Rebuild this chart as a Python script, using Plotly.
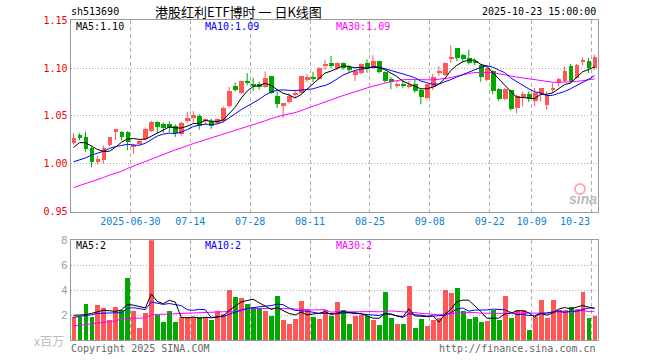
import plotly.graph_objects as go

# ---------------- data ----------------
opens = [1.0211, 1.0295, 1.0274, 1.0163, 1.0010, 1.0037, 1.0191, 1.0329, 1.0333, 1.0333,
         1.0175, 1.0201, 1.0253, 1.0340, 1.0438, 1.0409, 1.0417, 1.0392, 1.0305, 1.0444,
         1.0479, 1.0496, 1.0444, 1.0444, 1.0420, 1.0444, 1.0600, 1.0808, 1.0740, 1.0860,
         1.0833, 1.0833, 1.0798, 1.0913, 1.0704, 1.0597, 1.0639, 1.0715, 1.0740, 1.0868,
         1.0902, 1.0881, 1.1017, 1.1052, 1.0993, 1.1055, 1.1010, 1.0927, 1.0944, 1.1055,
         1.1003, 1.1066, 1.0951, 1.0881, 1.0819, 1.0829, 1.0795, 1.0829, 1.0767, 1.0680,
         1.0795, 1.0955, 1.0925, 1.1100, 1.1204, 1.1135, 1.1107, 1.1073, 1.1031, 1.0871,
         1.0969, 1.0777, 1.0673, 1.0767, 1.0576, 1.0694, 1.0729, 1.0652, 1.0729, 1.0610,
         1.0774, 1.0836, 1.0860, 1.1017, 1.0896, 1.1066, 1.1076, 1.1000]
highs = [1.0319, 1.0319, 1.0336, 1.0180, 1.0079, 1.0190, 1.0280, 1.0362, 1.0340, 1.0340,
         1.0208, 1.0245, 1.0380, 1.0448, 1.0444, 1.0430, 1.0444, 1.0410, 1.0440, 1.0542,
         1.0550, 1.0519, 1.0472, 1.0472, 1.0472, 1.0600, 1.0802, 1.0850, 1.0868, 1.0948,
         1.0899, 1.0860, 1.0965, 1.0915, 1.0756, 1.0635, 1.0738, 1.0774, 1.0920, 1.0935,
         1.0961, 1.1008, 1.1086, 1.1128, 1.1060, 1.1060, 1.1031, 1.0977, 1.1050, 1.1090,
         1.1135, 1.1073, 1.0967, 1.0906, 1.0871, 1.0871, 1.0865, 1.0881, 1.0784, 1.0836,
         1.0941, 1.1021, 1.1060, 1.1240, 1.1211, 1.1149, 1.1194, 1.1100, 1.1045, 1.1014,
         1.0977, 1.0790, 1.0790, 1.0774, 1.0722, 1.0756, 1.0756, 1.0792, 1.0790, 1.0756,
         1.0844, 1.0896, 1.1017, 1.1042, 1.1042, 1.1110, 1.1104, 1.1139]
lows = [1.0200, 1.0246, 1.0128, 0.9965, 0.9993, 1.0000, 1.0180, 1.0246, 1.0243, 1.0142,
        1.0105, 1.0195, 1.0243, 1.0330, 1.0323, 1.0326, 1.0326, 1.0280, 1.0295, 1.0427,
        1.0430, 1.0357, 1.0410, 1.0365, 1.0410, 1.0430, 1.0583, 1.0756, 1.0732, 1.0819,
        1.0764, 1.0774, 1.0795, 1.0729, 1.0583, 1.0477, 1.0628, 1.0688, 1.0732, 1.0852,
        1.0852, 1.0878, 1.0982, 1.0998, 1.0982, 1.0980, 1.0951, 1.0865, 1.0935, 1.0951,
        1.0996, 1.0941, 1.0847, 1.0777, 1.0788, 1.0788, 1.0788, 1.0743, 1.0621, 1.0670,
        1.0770, 1.0915, 1.0920, 1.1055, 1.1073, 1.1066, 1.1038, 1.1031, 1.0857, 1.0863,
        1.0725, 1.0654, 1.0665, 1.0555, 1.0524, 1.0600, 1.0646, 1.0600, 1.0650, 1.0566,
        1.0740, 1.0808, 1.0854, 1.0844, 1.0889, 1.1027, 1.0948, 1.0982]
closes = [1.0267, 1.0267, 1.0149, 1.0017, 1.0045, 1.0163, 1.0277, 1.0357, 1.0277, 1.0219,
          1.0185, 1.0235, 1.0365, 1.0433, 1.0381, 1.0368, 1.0375, 1.0316, 1.0427, 1.0479,
          1.0503, 1.0392, 1.0461, 1.0389, 1.0461, 1.0583, 1.0756, 1.0767, 1.0860, 1.0836,
          1.0819, 1.0798, 1.0896, 1.0740, 1.0623, 1.0628, 1.0706, 1.0740, 1.0917, 1.0904,
          1.0878, 1.1003, 1.1040, 1.1017, 1.1052, 1.1003, 1.0975, 1.0969, 1.1045, 1.0993,
          1.1066, 1.0951, 1.0865, 1.0847, 1.0829, 1.0819, 1.0819, 1.0760, 1.0691, 1.0829,
          1.0906, 1.0970, 1.1055, 1.1115, 1.1100, 1.1090, 1.1055, 1.1055, 1.0899, 1.1003,
          1.0760, 1.0673, 1.0777, 1.0569, 1.0708, 1.0722, 1.0670, 1.0740, 1.0784, 1.0715,
          1.0792, 1.0883, 1.0965, 1.0860, 1.1027, 1.1073, 1.1000, 1.1110]
volumes = [1.84, 1.84, 2.91, 1.84, 2.83, 2.60, 1.63, 2.67, 2.43, 4.99,
           2.35, 0.99, 2.19, 7.97, 2.03, 1.47, 2.35, 1.47, 1.84, 1.84,
           1.84, 1.84, 1.84, 1.63, 2.35, 2.10, 4.03, 3.47, 3.39, 2.91,
           2.64, 2.60, 2.29, 1.95, 3.55, 1.63, 1.31, 1.71, 3.09, 2.45,
           1.84, 1.71, 2.37, 1.95, 3.01, 2.43, 1.31, 1.95, 2.03, 1.95,
           1.63, 1.23, 3.81, 1.79, 1.31, 1.31, 4.35, 0.99, 1.71, 1.15,
           1.63, 1.79, 4.03, 3.79, 4.19, 2.29, 1.71, 1.87, 1.47, 1.49,
           2.37, 1.63, 3.55, 1.79, 2.43, 2.43, 0.83, 1.81, 3.23, 1.79,
           3.23, 2.43, 2.43, 2.67, 2.51, 3.87, 1.79, 1.95]

# moving-average values at the start of the window (history before the first candle)
ma5_head = [1.017, 1.022, 1.022, 1.018]
ma10_head = [1.002, 1.004, 1.006, 1.009, 1.011, 1.013, 1.016, 1.018, 1.019]
ma30_head = [0.975, 0.977, 0.979, 0.981, 0.983, 0.9855, 0.988, 0.990, 0.992, 0.995,
             0.9975, 1.000, 1.0025, 1.005, 1.0075, 1.010, 1.012, 1.0145, 1.0165, 1.019,
             1.021, 1.023, 1.025, 1.027, 1.029, 1.031, 1.033, 1.035, 1.037]
vma5_head = [2.0, 2.0, 2.05, 2.15]
vma10_head = [1.84, 1.9, 1.95, 2.05, 2.15, 2.18, 2.18, 2.2, 2.2]
vma30_head = [1.15, 1.2, 1.25, 1.3, 1.4, 1.45, 1.5, 1.55, 1.7, 1.75,
              1.76, 1.77, 1.8, 2.05, 2.07, 2.08, 2.1, 2.12, 2.14, 2.15,
              2.17, 2.18, 2.2, 2.22, 2.25, 2.27, 2.3, 2.32, 2.34]

tick_labels = ["2025-06-30", "07-14", "07-28", "08-11", "08-25", "09-08", "09-22", "10-09", "10-23"]
tick_index = [10, 20, 30, 40, 50, 60, 70, 77, 87]
price_ticks = [0.95, 1.00, 1.05, 1.10, 1.15]
vol_ticks = [2, 4, 6, 8]

# ---------------- derived ----------------
n = len(closes)
xs = list(range(n))


def moving_avg(vals, k, head):
    out = list(head)
    for i in range(len(head), len(vals)):
        out.append(sum(vals[i - k + 1:i + 1]) / k)
    return out


ma5 = moving_avg(closes, 5, ma5_head)
ma10 = moving_avg(closes, 10, ma10_head)
ma30 = moving_avg(closes, 30, ma30_head)
vma5 = moving_avg(volumes, 5, vma5_head)
vma10 = moving_avg(volumes, 10, vma10_head)
vma30 = moving_avg(volumes, 30, vma30_head)

RED = "#ff5757"
GREEN = "#00a800"
up = [c >= o for o, c in zip(opens, closes)]
colors = [RED if u else GREEN for u in up]

body_base = [min(o, c) for o, c in zip(opens, closes)]
body_h = [max(abs(c - o), 0.0008) for o, c in zip(opens, closes)]

fig = go.Figure()

# wicks
for flag, col in [(True, RED), (False, GREEN)]:
    wx, wy = [], []
    for i in xs:
        if up[i] == flag:
            wx += [i, i, None]
            wy += [lows[i], highs[i], None]
    fig.add_trace(go.Scatter(x=wx, y=wy, mode="lines", line=dict(color=col, width=1),
                             xaxis="x", yaxis="y", hoverinfo="skip", showlegend=False))

# bodies
fig.add_trace(go.Bar(x=xs, y=body_h, base=body_base, width=0.8,
                     marker=dict(color=colors, line=dict(width=0)),
                     xaxis="x", yaxis="y", showlegend=False))

# price MAs
for vals, col in [(ma30, "#ff00ff"), (ma10, "#0000ff"), (ma5, "#000000")]:
    fig.add_trace(go.Scatter(x=xs, y=vals, mode="lines", line=dict(color=col, width=1),
                             xaxis="x", yaxis="y", showlegend=False))

# volume
fig.add_trace(go.Bar(x=xs, y=volumes, width=0.82,
                     marker=dict(color=colors, line=dict(width=0)),
                     xaxis="x2", yaxis="y2", showlegend=False))
for vals, col in [(vma30, "#ff00ff"), (vma10, "#0000ff"), (vma5, "#000000")]:
    fig.add_trace(go.Scatter(x=xs, y=vals, mode="lines", line=dict(color=col, width=1),
                             xaxis="x2", yaxis="y2", showlegend=False))

W, H = 660, 360


def px(x):
    return x / W


def py(y):
    return 1 - y / H


MONO = "DejaVu Sans Mono"
GRID = "#b0b0b0"
FRAME = "#999999"
xdom = [px(70.5), px(597.5)]
tickvals = [t - 0.5 for t in tick_index]

common_x = dict(domain=xdom, range=[-0.5, n - 0.5], showgrid=True, gridcolor=GRID,
                griddash="4px,3px", gridwidth=1, ticks="", showline=True, mirror=True,
                linecolor=FRAME, linewidth=1, zeroline=False, tickvals=tickvals,
                fixedrange=True, automargin=False)

fig.update_layout(
    template="none",
    width=W, height=H, autosize=False, margin=dict(l=0, r=0, t=0, b=0, pad=0),
    paper_bgcolor="white", plot_bgcolor="white", showlegend=False,
    bargap=0,
    xaxis=dict(**common_x, anchor="y",
               ticktext=tick_labels[:-1] + [""],
               tickfont=dict(family=MONO, size=10, color="#0a84d8")),
    yaxis=dict(domain=[py(211.5), py(20.3)], range=[0.95, 1.15], tickvals=price_ticks,
               ticktext=[f"{v:.2f}" for v in price_ticks],
               tickfont=dict(family=MONO, size=10, color="#ee0000"),
               showgrid=True, gridcolor=GRID, griddash="1px,2px", ticks="",
               showline=True, mirror=True, linecolor=FRAME, zeroline=False, anchor="x",
               automargin=False, fixedrange=True),
    xaxis2=dict(**common_x, anchor="y2", showticklabels=False, matches="x"),
    yaxis2=dict(domain=[py(340.3), py(240.3)], range=[0, 8], tickvals=vol_ticks,
                ticktext=[str(v) for v in vol_ticks],
                tickfont=dict(family="Liberation Sans", size=11, color="#999999"),
                showgrid=True, gridcolor=GRID, griddash="1px,2px", ticks="",
                showline=True, mirror=True, linecolor=FRAME, zeroline=False, anchor="x2",
                automargin=False, fixedrange=True),
)


def label(text, x, y, color="#000", size=10, family=MONO, anchor="left"):
    fig.add_annotation(text=text, x=px(x), y=py(y), xref="paper", yref="paper",
                       xanchor=anchor, yanchor="middle", showarrow=False, borderpad=0,
                       font=dict(family=family, size=size, color=color))


label("sh513690", 70, 12)
label("港股红利ETF博时 一 日K线图", 238, 11.5, size=13, family="Noto Sans CJK SC", anchor="center")
label("2025-10-23 15:00:00", 597, 12, anchor="right")
label("MA5:1.10", 75, 27)
label("MA10:1.09", 204, 27, color="#0000ff")
label("MA30:1.09", 335, 27, color="#ff00ff")
label("MA5:2", 75, 245.5)
label("MA10:2", 204, 245.5, color="#0000ff")
label("MA30:2", 335, 245.5, color="#ff00ff")
label(tick_labels[-1], 591, 221, color="#0a84d8", anchor="right")
label("x百万", 65, 340, color="#bbbbbb", size=12, family="Noto Sans CJK SC", anchor="right")
label("Copyright 2025 SINA.COM", 70, 348, color="#666666")
label("http://finance.sina.com.cn", 597, 348, color="#666666", anchor="right")
label("<b><i>sina</i></b>", 598, 199, color="#bbbbbb", size=14, family="Liberation Sans", anchor="right")
fig.add_shape(type="circle", xref="paper", yref="paper",
              x0=px(575), x1=px(585), y0=py(194), y1=py(184),
              line=dict(color="#f5b0b0", width=2))

fig.write_html("out.html", config={"displayModeBar": False, "responsive": False},
               post_script="document.body.style.margin='0';document.body.style.overflow='hidden';")
